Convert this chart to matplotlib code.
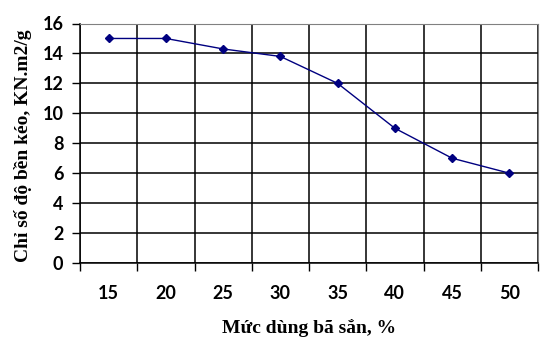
import numpy as np
import matplotlib.pyplot as plt
from matplotlib.ticker import FixedLocator

# data
muc_dung = ["15", "20", "25", "30", "35", "40", "45", "50"]
chi_so = [15.0, 15.0, 14.3, 13.8, 12.0, 9.0, 7.0, 6.0]
y_ticks = [0, 2, 4, 6, 8, 10, 12, 14, 16]

fig = plt.figure(figsize=(5.48, 3.5), dpi=100)
ax = fig.add_axes([80/548, 1 - 263/350, 458/548, 239.5/350])

xpos = np.arange(1, len(muc_dung) + 1)
ax.plot(xpos, chi_so, color="#000080", lw=1.0, marker="D", ms=4.5,
        mfc="#000080", mec="#000080", zorder=3)

ax.set_xlim(0.5, len(muc_dung) + 0.5)
ax.set_ylim(0, 16)

# category ticks (labels) and boundaries (gridlines)
ax.set_xticks(xpos)
ax.set_xticklabels(muc_dung)
ax.xaxis.set_minor_locator(FixedLocator(np.arange(0.5, len(muc_dung) + 1, 1)))
ax.tick_params(axis="x", which="major", length=0, pad=16)
ax.tick_params(axis="x", which="minor", length=6, width=1, color="black", direction="out")
ax.grid(True, axis="x", which="minor", color="black", lw=1.1)

ax.set_yticks(y_ticks)
ax.tick_params(axis="y", length=6, width=1, direction="out", pad=6)
ax.grid(True, axis="y", which="major", color="black", lw=1.1)
ax.set_axisbelow(True)

for lab in ax.get_xticklabels() + ax.get_yticklabels():
    lab.set_fontfamily("Lato")
    lab.set_fontweight("bold")
    lab.set_fontsize(13)

for s in ["top", "right"]:
    ax.spines[s].set_color("#808080")
for s in ["left", "bottom"]:
    ax.spines[s].set_color("black")
    ax.spines[s].set_linewidth(1.1)

ax.set_xlabel("Mức dùng bã sắn, %", fontfamily="Liberation Serif",
              fontweight="bold", fontsize=14, labelpad=12)
ax.set_ylabel("Chỉ số độ bền kéo, KN.m2/g", fontfamily="Liberation Serif",
              fontweight="bold", fontsize=14)
ax.yaxis.set_label_coords(-0.105, 0.49)

fig.savefig("out.png", dpi=100)
